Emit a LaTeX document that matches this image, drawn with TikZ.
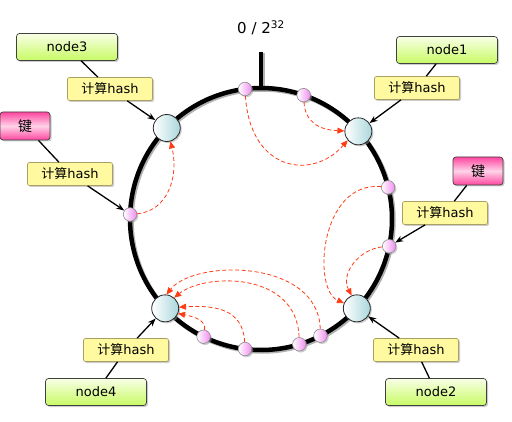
\documentclass[tikz,border=0pt]{standalone}
\usepackage{fontspec}
\setmainfont{DejaVu Sans}
\newfontfamily\cjk{Noto Sans CJK SC}
\usetikzlibrary{arrows.meta,shadows}

\definecolor{nodegreen}{RGB}{200,250,100}
\definecolor{nodegreentop}{RGB}{248,255,230}
\definecolor{hashyellow}{RGB}{255,250,160}
\definecolor{hashedge}{RGB}{170,160,100}
\definecolor{keypink}{RGB}{255,70,160}
\definecolor{keypinklight}{RGB}{255,210,232}
\definecolor{serverblue}{RGB}{170,215,220}
\definecolor{ptpink}{RGB}{240,140,240}
\definecolor{flowred}{RGB}{255,60,20}

\tikzset{
  boxshadow/.style={drop shadow={shadow xshift=1.5pt,shadow yshift=-1.5pt,fill=black!40}},
  ringline/.style={line width=4.5pt},
  server/.style={circle,draw=black!85,line width=0.8pt,minimum size=27pt,inner sep=0pt,
    left color=white,right color=serverblue,boxshadow},
  hashpt/.style={circle,draw=black!45,line width=0.6pt,minimum size=13.5pt,inner sep=0pt,
    left color=white,right color=ptpink,boxshadow},
  nodebox/.style={rounded corners=3pt,draw=black!75,line width=0.7pt,minimum width=101pt,
    minimum height=27pt,inner sep=0pt,top color=nodegreentop,bottom color=nodegreen,
    boxshadow,font=\fontsize{13}{15}\selectfont},
  keybox/.style={rounded corners=3pt,draw=black!75,line width=0.7pt,minimum width=50pt,
    minimum height=28pt,inner sep=0pt,top color=keypink,bottom color=keypink,
    middle color=keypinklight,boxshadow,font=\fontsize{14}{16}\selectfont\cjk},
  hashbox/.style={rounded corners=2pt,draw=hashedge,line width=0.7pt,fill=hashyellow,
    minimum width=85pt,minimum height=23pt,inner sep=0pt,boxshadow,
    font=\fontsize{13}{15}\selectfont},
  feed/.style={line width=1.3pt},
  lookup/.style={line width=1.3pt,-{Stealth[length=8pt,width=6pt]}},
  remap/.style={flowred,line width=0.8pt,dash pattern=on 4pt off 2.5pt,
    -{Triangle[length=7pt,width=6pt]}},
}

\begin{document}
\begin{tikzpicture}[x=1pt,y=1pt]
\useasboundingbox (0,0) rectangle (512,421);
\coordinate (c) at (261,202);

% hash ring with the zero mark
\draw[ringline,black!30] ([shift={(1.5,-1.5)}]c) circle (131pt);
\draw[ringline,black!30] ([shift={(1.5,-1.5)}]c) ++(0,129) -- ++(0,38);
\draw[ringline] (c) circle (131pt);
\draw[ringline] (c) ++(0,129) -- ++(0,38);
\node[font=\fontsize{15}{17}\selectfont] (zero) at (261,393) {0 / 2\textsuperscript{32}};

% servers on the ring
\node[server] (s1) at ([shift={(42:131)}]c) {};
\node[server] (s2) at ([shift={(-43:131)}]c) {};
\node[server] (s3) at ([shift={(136:131)}]c) {};
\node[server] (s4) at ([shift={(-137:131)}]c) {};

% hashed keys on the ring
\node[hashpt] (pa) at ([shift={(97:131)}]c) {};
\node[hashpt] (pb) at ([shift={(71:131)}]c) {};
\node[hashpt] (pc) at ([shift={(14:131)}]c) {};
\node[hashpt] (pd) at ([shift={(-12:131)}]c) {};
\node[hashpt] (pe) at ([shift={(-63:131)}]c) {};
\node[hashpt] (pf) at ([shift={(-73:131)}]c) {};
\node[hashpt] (pg) at ([shift={(-97:131)}]c) {};
\node[hashpt] (ph) at ([shift={(-116:131)}]c) {};
\node[hashpt] (pk) at ([shift={(178:131)}]c) {};

% labels outside
\node[nodebox] (node3) at (67,374) {node3};
\node[hashbox] (hash3) at (110,332) {{\cjk 计算}hash};
\node[nodebox] (node1) at (447,371) {node1};
\node[hashbox] (hash1) at (417,333) {{\cjk 计算}hash};
\node[keybox] (keyr) at (478,250) {键};
\node[hashbox] (hashr) at (445,208) {{\cjk 计算}hash};
\node[keybox] (keyl) at (25,295) {键};
\node[hashbox] (hashl) at (70,247) {{\cjk 计算}hash};
\node[nodebox] (node4) at (96,29) {node4};
\node[hashbox] (hash4) at (126,71) {{\cjk 计算}hash};
\node[nodebox] (node2) at (436,29) {node2};
\node[hashbox] (hash2) at (416,71) {{\cjk 计算}hash};

\draw[feed] (node3) -- (hash3);
\draw[lookup] (hash3) -- (s3);
\draw[feed] (node1) -- (hash1);
\draw[lookup] (hash1) -- (s1);
\draw[feed] (keyr) -- (hashr);
\draw[lookup] (hashr) -- (pd);
\draw[feed] (keyl) -- (hashl);
\draw[lookup] (hashl) -- (pk);
\draw[feed] (node4) -- (hash4);
\draw[lookup] (hash4) -- (s4);
\draw[feed] (node2) -- (hash2);
\draw[lookup] (hash2) -- (s2);

% clockwise to the next server
\draw[remap] (pa) .. controls (250,250) and (312,240) .. (s1.-140);
\draw[remap] (pb) .. controls (305,300) and (318,291) .. (s1.178);
\draw[remap] (pc) .. controls (320,240) and (312,132) .. (s2.158);
\draw[remap] (pd) .. controls (360,172) and (340,148) .. (s2.112);
\draw[remap] (pe) .. controls (318,162) and (195,162) .. (s4.85);
\draw[remap] (pf) .. controls (297,150) and (205,148) .. (s4.50);
\draw[remap] (pg) .. controls (243,112) and (215,116) .. (s4.5);
\draw[remap] (ph) .. controls (206,100) and (196,104) .. (s4.-22);
\draw[remap] (pk) .. controls (168,210) and (179,245) .. (s3.-75);
\end{tikzpicture}
\end{document}
